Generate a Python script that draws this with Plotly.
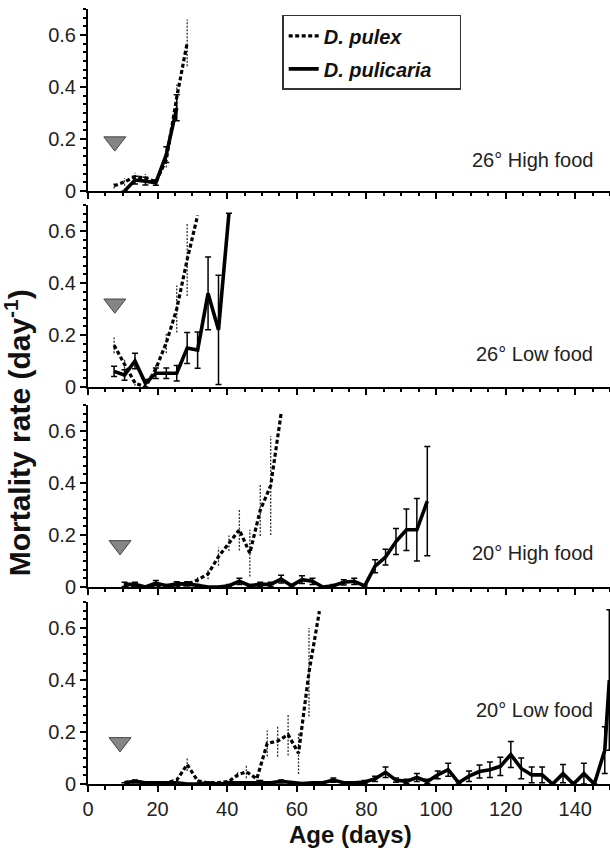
import plotly.graph_objects as go
from plotly.subplots import make_subplots

# ---------------- data ----------------
# Panel 1: 26° High food
days_26h_pulex = [7.5, 10.5, 13.5, 16.5, 19.5, 22.5, 25.5, 28.5]
mort_26h_pulex = [0.02, 0.035, 0.055, 0.05, 0.035, 0.12, 0.36, 0.57]
err_26h_pulex = [0.01, 0.015, 0.015, 0.015, 0.01, 0.03, 0.05, 0.09]
days_26h_pulic = [10.5, 13.5, 16.5, 19.5, 22.5, 25.5]
mort_26h_pulic = [0.0, 0.042, 0.038, 0.032, 0.14, 0.32]
err_26h_pulic = [0.0, 0.015, 0.015, 0.01, 0.03, 0.05]

# Panel 2: 26° Low food
days_26l_pulex = [7.5, 10.5, 13.5, 16.5, 19.5, 22.5, 25.5, 28.5, 31.5]
mort_26l_pulex = [0.16, 0.09, 0.015, 0.0, 0.07, 0.17, 0.30, 0.49, 0.66]
err_26l_pulex = [0.03, 0.02, 0.01, 0.0, 0.02, 0.04, 0.09, 0.14, 0.0]
days_26l_pulic = [7.5, 10.5, 13.5, 16.5, 19.5, 22.5, 25.5, 28.5, 31.5, 34.5, 37.5, 40.5]
mort_26l_pulic = [0.06, 0.046, 0.10, 0.014, 0.053, 0.053, 0.053, 0.15, 0.142, 0.36, 0.22, 0.668]
err_26l_pulic = [0.02, 0.02, 0.03, 0.015, 0.02, 0.02, 0.03, 0.06, 0.07, 0.14, 0.21, 0.0]

# Panel 3: 20° High food
days_20h_pulex = [10.5, 13.5, 16.5, 19.5, 22.5, 25.5, 28.5, 31.5, 34.5, 37.5, 40.5,
                  43.5, 46.5, 49.5, 52.5, 55.5]
mort_20h_pulex = [0.005, 0.005, 0.0, 0.005, 0.0, 0.005, 0.01, 0.027, 0.05, 0.117, 0.168,
                  0.22, 0.13, 0.296, 0.39, 0.668]
err_20h_pulex = [0.0, 0.0, 0.0, 0.0, 0.0, 0.0, 0.005, 0.01, 0.02, 0.035, 0.03,
                 0.08, 0.09, 0.10, 0.19, 0.0]
days_20h_pulic = [10.5, 13.5, 16.5, 19.5, 22.5, 25.5, 28.5, 31.5, 34.5, 37.5, 40.5,
                  43.5, 46.5, 49.5, 52.5, 55.5, 58.5, 61.5, 64.5, 67.5, 70.5, 73.5,
                  76.5, 79.5, 82.5, 85.5, 88.5, 91.5, 94.5, 97.5]
mort_20h_pulic = [0.01, 0.01, 0.0, 0.015, 0.005, 0.012, 0.012, 0.005, 0.0, 0.0, 0.005,
                  0.022, 0.005, 0.01, 0.01, 0.03, 0.005, 0.028, 0.022, 0.0, 0.005, 0.018,
                  0.022, 0.004, 0.08, 0.115, 0.175, 0.22, 0.22, 0.33]
err_20h_pulic = [0.008, 0.008, 0.0, 0.01, 0.005, 0.008, 0.008, 0.005, 0.0, 0.0, 0.005,
                 0.012, 0.005, 0.008, 0.008, 0.015, 0.005, 0.015, 0.012, 0.0, 0.005, 0.01,
                 0.012, 0.004, 0.025, 0.03, 0.05, 0.08, 0.12, 0.21]

# Panel 4: 20° Low food
days_20l_pulex = [10.5, 13.5, 16.5, 19.5, 22.5, 25.5, 28.5, 31.5, 34.5, 37.5, 40.5,
                  43.0, 45.5, 48.5, 51.5, 54.5, 57.5, 60.5, 63.5, 66.5]
mort_20l_pulex = [0.005, 0.01, 0.005, 0.005, 0.005, 0.015, 0.075, 0.012, 0.005, 0.005, 0.01,
                  0.035, 0.047, 0.02, 0.156, 0.165, 0.19, 0.118, 0.43, 0.665]
err_20l_pulex = [0.0, 0.005, 0.0, 0.0, 0.0, 0.005, 0.025, 0.005, 0.0, 0.0, 0.005,
                 0.01, 0.025, 0.01, 0.05, 0.06, 0.08, 0.08, 0.17, 0.0]
days_20l_pulic = [10.5, 13.5, 16.5, 19.5, 22.5, 25.5, 28.5, 31.5, 34.5, 37.5, 40.5,
                  43.5, 46.5, 49.5, 52.5, 55.5, 58.5, 61.5, 64.5, 67.5, 70.5, 73.5,
                  76.5, 79.5, 82.5, 85.5, 88.5, 91.5, 94.5, 97.5, 100.5, 103.5, 106.5,
                  109.5, 112.5, 115.5, 118.5, 121.5, 124.5, 127.5, 130.5, 133.5, 136.5,
                  139.5, 142.5, 145.5, 148.5, 149.8]
mort_20l_pulic = [0.005, 0.01, 0.005, 0.005, 0.005, 0.005, 0.0, 0.0, 0.005, 0.0, 0.005,
                  0.005, 0.005, 0.008, 0.005, 0.01, 0.005, 0.002, 0.005, 0.005, 0.015, 0.005,
                  0.005, 0.008, 0.02, 0.045, 0.015, 0.01, 0.025, 0.01, 0.035, 0.055, 0.005,
                  0.03, 0.048, 0.055, 0.068, 0.113, 0.06, 0.035, 0.035, 0.0, 0.04,
                  0.0, 0.04, 0.0, 0.13, 0.40]
err_20l_pulic = [0.0, 0.005, 0.0, 0.0, 0.0, 0.0, 0.0, 0.0, 0.0, 0.0, 0.0,
                 0.0, 0.0, 0.005, 0.0, 0.005, 0.0, 0.0, 0.0, 0.0, 0.008, 0.0,
                 0.0, 0.005, 0.01, 0.02, 0.008, 0.008, 0.015, 0.008, 0.015, 0.025, 0.005,
                 0.02, 0.025, 0.03, 0.035, 0.05, 0.04, 0.03, 0.03, 0.0, 0.035,
                 0.0, 0.04, 0.0, 0.09, 0.27]

# start-of-treatment markers (day, rate) per panel
marker_days = [7.7, 7.7, 9.2, 9.2]
marker_rates = [0.19, 0.32, 0.16, 0.16]

panel_labels = ["26° High food", "26° Low food", "20° High food", "20° Low food"]
label_rates = [0.12, 0.125, 0.13, 0.285]

series_names = ["<b><i>D. pulex</i></b>", "<b><i>D. pulicaria</i></b>&nbsp;&nbsp;&nbsp;&nbsp;"]

panels = [
    (days_26h_pulex, mort_26h_pulex, err_26h_pulex, days_26h_pulic, mort_26h_pulic, err_26h_pulic),
    (days_26l_pulex, mort_26l_pulex, err_26l_pulex, days_26l_pulic, mort_26l_pulic, err_26l_pulic),
    (days_20h_pulex, mort_20h_pulex, err_20h_pulex, days_20h_pulic, mort_20h_pulic, err_20h_pulic),
    (days_20l_pulex, mort_20l_pulex, err_20l_pulex, days_20l_pulic, mort_20l_pulic, err_20l_pulic),
]

# ---------------- figure ----------------
FONT = "Liberation Sans, Arial, sans-serif"
fig = make_subplots(rows=4, cols=1)

for i, (dx, mx, ex, dc, mc, ec) in enumerate(panels):
    row = i + 1
    # dotted error bars for D. pulex
    ebx, eby = [], []
    for d, m, e in zip(dx, mx, ex):
        if e > 0:
            ebx += [d, d, None]
            eby += [m - e, m + e, None]
    fig.add_trace(go.Scatter(x=ebx, y=eby, mode="lines", showlegend=False, hoverinfo="skip",
                             line=dict(color="#333", width=1.3, dash="2px,1.5px")), row=row, col=1)
    # D. pulex dashed
    fig.add_trace(go.Scatter(x=dx, y=mx, mode="lines", name=series_names[0],
                             legendgroup="pulex", showlegend=(i == 0),
                             line=dict(color="black", width=3.2, dash="4px,2.5px")),
                  row=row, col=1)
    # D. pulicaria solid with error bars
    fig.add_trace(go.Scatter(x=dc, y=mc, mode="lines", name=series_names[1],
                             legendgroup="pulic", showlegend=(i == 0),
                             line=dict(color="black", width=3.6),
                             error_y=dict(type="data", array=ec, visible=True,
                                          color="black", thickness=1.5, width=3)),
                  row=row, col=1)
    # triangle marker
    fig.add_trace(go.Scatter(x=[marker_days[i]], y=[marker_rates[i]], mode="markers",
                             showlegend=False, hoverinfo="skip",
                             marker=dict(symbol="triangle-down", size=19, color="#858585",
                                         line=dict(color="#444", width=1))),
                  row=row, col=1)

# geometry: plot area x 88..610 px, y 0..784 px
domains = [[0.7564, 0.9885], [0.5064, 0.7385], [0.2513, 0.4834], [0.0, 0.2321]]
for i in range(4):
    xa = "xaxis" if i == 0 else f"xaxis{i+1}"
    ya = "yaxis" if i == 0 else f"yaxis{i+1}"
    fig.layout[xa].update(
        range=[0, 150], domain=[0, 1], showline=True, linecolor="black", linewidth=2,
        ticks="outside", ticklen=6, tickwidth=2, tickcolor="black", tick0=0, dtick=20,
        showticklabels=(i == 3), showgrid=False, zeroline=False,
        tickfont=dict(family=FONT, size=20, color="#222"),
        minor=dict(dtick=5, tick0=0, ticks="outside", ticklen=3.5, tickwidth=1.5,
                   tickcolor="black", showgrid=False),
    )
    fig.layout[ya].update(
        range=[0, 0.7], domain=domains[i], showline=True, linecolor="black", linewidth=2,
        ticks="outside", ticklen=6, tickwidth=2, tickcolor="black", tick0=0, dtick=0.2,
        showgrid=False, zeroline=False,
        tickfont=dict(family=FONT, size=20, color="#222"),
        minor=dict(dtick=0.2 / 6, tick0=0, ticks="outside", ticklen=3.5, tickwidth=1.5,
                   tickcolor="black", showgrid=False),
    )
    yref = "y" if i == 0 else f"y{i+1}"
    fig.add_annotation(text=panel_labels[i], xref="paper", yref=yref, x=0.972,
                       y=label_rates[i], xanchor="right", yanchor="middle", showarrow=False,
                       font=dict(family=FONT, size=20, color="#222"))

fig.add_annotation(text="<b>Mortality rate (day<sup>-1</sup>)</b>", xref="paper", yref="paper",
                   x=-0.135, y=0.448, textangle=-90, showarrow=False,
                   xanchor="center", yanchor="middle",
                   font=dict(family=FONT, size=30, color="#111"))
fig.add_annotation(text="<b>Age (days)</b>", xref="paper", yref="paper",
                   x=0.502, y=-0.064, showarrow=False, xanchor="center", yanchor="middle",
                   font=dict(family=FONT, size=24, color="#111"))

fig.update_layout(
    width=610, height=851,
    margin=dict(l=88, r=0, t=0, b=67),
    paper_bgcolor="white", plot_bgcolor="white",
    showlegend=True,
    legend=dict(x=0.372, y=0.981, xanchor="left", yanchor="top",
                bordercolor="#333", borderwidth=1.5, bgcolor="white",
                font=dict(family=FONT, size=20, color="#111"),
                itemwidth=30, tracegroupgap=4),
)

fig.write_html("out.html")
